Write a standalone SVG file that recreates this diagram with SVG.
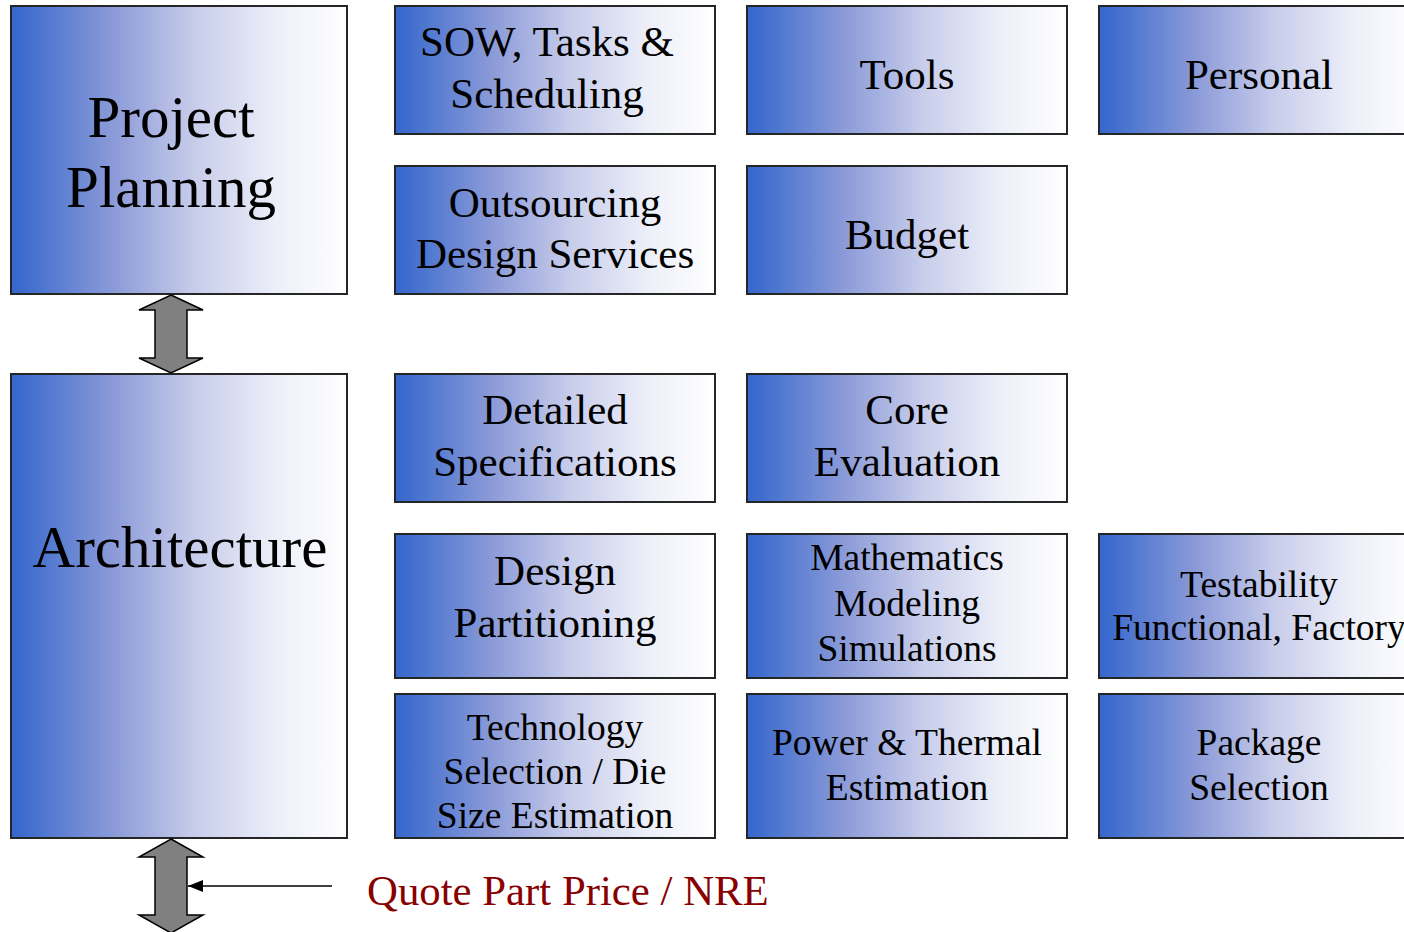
<svg xmlns="http://www.w3.org/2000/svg" width="1404" height="932" viewBox="0 0 1404 932">
<defs>
<linearGradient id="g" x1="0" y1="0" x2="1" y2="0">
<stop offset="0" stop-color="#3366cc"/>
<stop offset="0.3" stop-color="#8a9ad8"/>
<stop offset="0.55" stop-color="#c8cdeb"/>
<stop offset="0.8" stop-color="#eef0f9"/>
<stop offset="1" stop-color="#ffffff"/>
</linearGradient>
<marker id="ah" markerWidth="15" markerHeight="12" refX="15" refY="6" orient="auto" markerUnits="userSpaceOnUse">
<path d="M0,0 L15,6 L0,12 Z" fill="#000"/>
</marker>
</defs>
<style>
.box{fill:url(#g);stroke:#262626;stroke-width:2}
.t{font-family:"Liberation Serif","Times New Roman",serif;fill:#000;text-anchor:middle}
.big{font-size:59px}
.m{font-size:43px}
.s{font-size:37.5px}
.dbl{fill:#808080;stroke:#000;stroke-width:1.5;stroke-linejoin:miter}
</style>
<rect width="1404" height="932" fill="#fff"/>

<g id="project-planning">
<rect class="box" x="11" y="6" width="336" height="288"/>
<text class="t big" x="171" y="137">Project</text>
<text class="t big" x="171" y="207">Planning</text>
</g>
<g id="architecture">
<rect class="box" x="11" y="374" width="336" height="464"/>
<text class="t big" x="180" y="567">Architecture</text>
</g>

<g id="sow">
<rect class="box" x="395" y="6" width="320" height="128"/>
<text class="t m" x="547" y="56">SOW, Tasks &amp;</text>
<text class="t m" x="547" y="108">Scheduling</text>
</g>
<g id="tools">
<rect class="box" x="747" y="6" width="320" height="128"/>
<text class="t m" x="907" y="89">Tools</text>
</g>
<g id="personal">
<rect class="box" x="1099" y="6" width="320" height="128"/>
<text class="t m" x="1259" y="89">Personal</text>
</g>
<g id="outsourcing">
<rect class="box" x="395" y="166" width="320" height="128"/>
<text class="t m" x="555" y="217">Outsourcing</text>
<text class="t m" x="555" y="268">Design Services</text>
</g>
<g id="budget">
<rect class="box" x="747" y="166" width="320" height="128"/>
<text class="t m" x="907" y="249">Budget</text>
</g>
<g id="detailed-specs">
<rect class="box" x="395" y="374" width="320" height="128"/>
<text class="t m" x="555" y="424">Detailed</text>
<text class="t m" x="555" y="476">Specifications</text>
</g>
<g id="core-eval">
<rect class="box" x="747" y="374" width="320" height="128"/>
<text class="t m" x="907" y="424">Core</text>
<text class="t m" x="907" y="476">Evaluation</text>
</g>
<g id="design-partitioning">
<rect class="box" x="395" y="534" width="320" height="144"/>
<text class="t m" x="555" y="585">Design</text>
<text class="t m" x="555" y="637">Partitioning</text>
</g>
<g id="mathematics">
<rect class="box" x="747" y="534" width="320" height="144"/>
<text class="t s" x="907" y="570">Mathematics</text>
<text class="t s" x="907" y="616">Modeling</text>
<text class="t s" x="907" y="661">Simulations</text>
</g>
<g id="testability">
<rect class="box" x="1099" y="534" width="320" height="144"/>
<text class="t s" x="1259" y="597">Testability</text>
<text class="t s" x="1259" y="640">Functional, Factory</text>
</g>
<g id="technology">
<rect class="box" x="395" y="694" width="320" height="144"/>
<text class="t s" x="555" y="740">Technology</text>
<text class="t s" x="555" y="784">Selection / Die</text>
<text class="t s" x="555" y="828">Size Estimation</text>
</g>
<g id="power-thermal">
<rect class="box" x="747" y="694" width="320" height="144"/>
<text class="t s" x="907" y="755">Power &amp; Thermal</text>
<text class="t s" x="907" y="800">Estimation</text>
</g>
<g id="package">
<rect class="box" x="1099" y="694" width="320" height="144"/>
<text class="t s" x="1259" y="755">Package</text>
<text class="t s" x="1259" y="800">Selection</text>
</g>

<g id="connectors">
<path class="dbl" d="M171,295 L203,310 L187,310 L187,358 L203,358 L171,373 L139,358 L155,358 L155,310 L139,310 Z"/>
<path class="dbl" d="M171,839 L203,857 L187,857 L187,915 L203,915 L171,933 L139,915 L155,915 L155,857 L139,857 Z"/>
<line x1="332" y1="886" x2="188" y2="886" stroke="#000" stroke-width="1.5" marker-end="url(#ah)"/>
</g>
<g id="quote-label">
<text class="t" x="367" y="905" style="font-size:42.8px;fill:#880000;text-anchor:start">Quote Part Price / NRE</text>
</g>
</svg>
